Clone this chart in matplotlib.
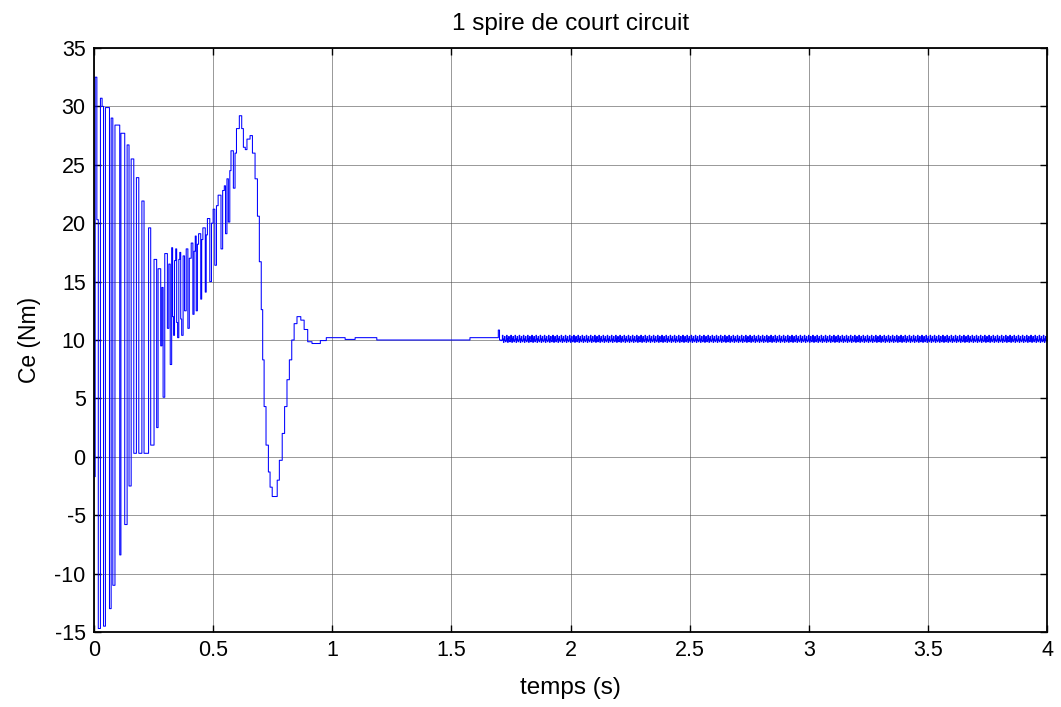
import matplotlib
matplotlib.use("Agg")
import matplotlib.pyplot as plt
import numpy as np

# torque Ce (Nm) vs time (s), one shorted turn
# start-up oscillation: sample times and values (high/low alternating)
t_start = [0.000, 0.002, 0.005, 0.012, 0.018, 0.027, 0.034, 0.040, 0.048, 0.065,
           0.072, 0.079, 0.088, 0.108, 0.113, 0.129, 0.139, 0.147, 0.156, 0.167,
           0.178, 0.188, 0.201, 0.210, 0.229, 0.238, 0.252, 0.263, 0.269, 0.280,
           0.285, 0.290, 0.297, 0.308, 0.314, 0.320, 0.326, 0.330, 0.334, 0.338,
           0.343, 0.347, 0.351, 0.356, 0.360, 0.364, 0.368, 0.374, 0.380, 0.387,
           0.394, 0.400, 0.408, 0.415, 0.420, 0.425, 0.429, 0.434, 0.439, 0.448,
           0.452, 0.457, 0.467, 0.471, 0.476, 0.486, 0.493, 0.500, 0.507, 0.514,
           0.521, 0.533, 0.540, 0.547, 0.552, 0.558, 0.564, 0.570, 0.575, 0.585,
           0.592, 0.598]
ce_start = [15.3, -1.7, 32.5, 20.3, -14.7, 30.7, 30.0, -14.5, 29.9, -13.0,
            29.0, -11.0, 28.4, -8.4, 27.7, -5.8, 26.7, -2.5, 25.5, 0.3,
            23.9, 0.3, 21.9, 0.3, 19.6, 1.0, 16.9, 2.5, 16.1, 9.5,
            14.5, 5.1, 17.4, 11.0, 16.5, 7.9, 17.9, 12.0, 10.4, 16.8,
            17.8, 11.5, 10.2, 16.9, 17.5, 11.8, 10.4, 17.2, 12.5, 17.8,
            11.0, 17.0, 18.3, 12.2, 17.6, 18.9, 12.5, 18.2, 19.1, 13.5,
            18.6, 19.6, 14.1, 19.0, 20.4, 15.0, 20.0, 21.2, 16.4, 21.5,
            22.4, 17.8, 22.8, 23.2, 19.1, 23.8, 20.1, 24.5, 26.2, 23.0,
            26.0, 28.1]

# main swing and settling
t_swing = [0.610, 0.620, 0.627, 0.635, 0.642, 0.655, 0.665, 0.676, 0.686, 0.694,
           0.702, 0.708, 0.714, 0.722, 0.732, 0.739, 0.748, 0.762, 0.769, 0.778,
           0.790, 0.800, 0.810, 0.820, 0.830, 0.840, 0.852, 0.868, 0.882, 0.897,
           0.915, 0.935, 0.950, 0.975, 1.045, 1.054, 1.096, 1.180, 1.187, 1.564,
           1.578, 1.694, 1.697, 1.702, 1.708]
ce_swing = [29.2, 28.1, 26.5, 26.3, 27.2, 27.5, 26.0, 23.8, 20.6, 16.7,
            12.6, 8.3, 4.3, 1.0, -1.3, -2.6, -3.4, -3.4, -2.0, -0.3,
            2.0, 4.3, 6.6, 8.3, 10.0, 11.4, 12.0, 11.7, 10.9, 9.85,
            9.7, 9.7, 9.95, 10.2, 10.2, 10.05, 10.2, 10.2, 10.0, 10.0,
            10.2, 10.2, 10.85, 10.0, 9.95]

# steady-state ripple after 1.71 s: two periods of samples, step dt_ripple
ripple_pattern = [10.0, 10.4, 10.05, 9.8, 10.1, 10.3, 9.95, 9.85]
dt_ripple = 0.0022
t_ripple_start, t_end = 1.712, 4.0

n_rip = int((t_end - t_ripple_start) / dt_ripple)
t_rip = t_ripple_start + dt_ripple * np.arange(n_rip)
ce_rip = np.resize(ripple_pattern, n_rip)

t = np.concatenate([t_start, t_swing, t_rip])
ce = np.concatenate([ce_start, ce_swing, ce_rip])

plt.rcParams['font.family'] = ['Liberation Sans', 'DejaVu Sans']
plt.rcParams['axes.unicode_minus'] = False

fig = plt.figure(figsize=(10.61, 7.07), dpi=100)
ax = fig.add_axes([94/1061, 1 - 632/707, (1047-94)/1061, (632-48)/707])

ax.plot(t, ce, color=(0, 0, 1), lw=0.75, drawstyle='steps-post')

ax.set_xlim(0, 4)
ax.set_ylim(-15, 35)
ax.set_xticks(np.arange(0, 4.01, 0.5))
ax.set_xticklabels(['0', '0.5', '1', '1.5', '2', '2.5', '3', '3.5', '4'])
ax.set_yticks(np.arange(-15, 36, 5))
ax.grid(True, color='#555555', lw=0.6, ls='-', alpha=0.7)
ax.tick_params(direction='in', top=True, right=True, length=5, width=1,
               labelsize=15.5, pad=6)
for s in ax.spines.values():
    s.set_linewidth(1.3)

ax.set_title('1 spire de court circuit', fontsize=17.5, pad=13)
ax.set_xlabel('temps (s)', fontsize=17.5, labelpad=11)
ax.set_ylabel('Ce (Nm)', fontsize=16.5, labelpad=10)

fig.savefig('out.png', dpi=100)
